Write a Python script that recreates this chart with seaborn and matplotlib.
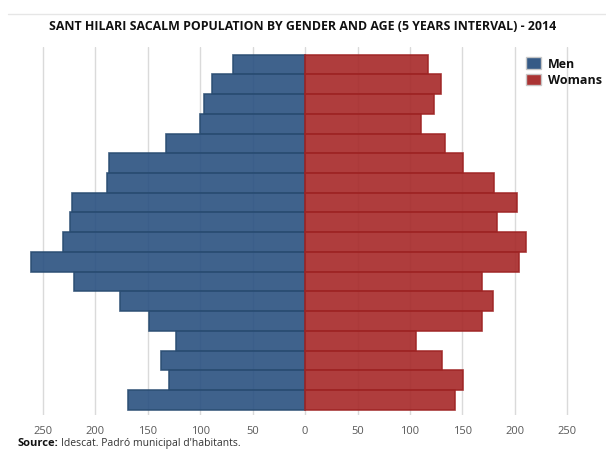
import matplotlib
matplotlib.use("Agg")
import matplotlib.pyplot as plt
import seaborn as sns
import pandas as pd
from matplotlib.patches import Patch
from matplotlib.lines import Line2D

# ---- data (top bar = oldest group) ----
age_groups = ["85+", "80-84", "75-79", "70-74", "65-69", "60-64", "55-59", "50-54",
              "45-49", "40-44", "35-39", "30-34", "25-29", "20-24", "15-19", "10-14",
              "5-9", "0-4"]
men = [69, 89, 96, 100, 133, 187, 189, 222, 224, 231, 261, 220, 177, 149, 123, 137, 130, 169]
women = [117, 130, 123, 111, 133, 151, 180, 202, 183, 211, 204, 169, 179, 169, 106, 131, 151, 143]
tick_values = [-250, -200, -150, -100, -50, 0, 50, 100, 150, 200, 250]
tick_labels = ["250", "200", "150", "100", "50", "0", "50", "100", "150", "200", "250"]
series_names = ["Men", "Womans"]

df_men = pd.DataFrame({"age": age_groups, "population": [-v for v in men]})
df_women = pd.DataFrame({"age": age_groups, "population": women})

sns.set_theme(style="white")
plt.rcParams['font.family'] = ['Open Sans', 'DejaVu Sans']

W, H = 606, 452
fig = plt.figure(figsize=(W / 100, H / 100), dpi=100)
ax = fig.add_axes([0, (H - 416) / H, 1, (416 - 48) / H])

men_fill, men_edge = "#2a5180", "#2a4d72"
wom_fill, wom_edge = "#a62828", "#9e2424"

sns.barplot(data=df_men, x="population", y="age", order=age_groups, orient="h",
            color=men_fill, saturation=1, width=1.0, alpha=0.9,
            edgecolor=men_edge, linewidth=1.2, ax=ax, zorder=2)
sns.barplot(data=df_women, x="population", y="age", order=age_groups, orient="h",
            color=wom_fill, saturation=1, width=1.0, alpha=0.9,
            edgecolor=wom_edge, linewidth=1.2, ax=ax, zorder=2)

ax.set_xlim(-291, 287)
ax.set_ylim(17.77, -0.89)
ax.set_xticks(tick_values)
ax.set_xticklabels(tick_labels)
ax.set_yticks([])
ax.set_xlabel("")
ax.set_ylabel("")
for s in ax.spines.values():
    s.set_visible(False)
ax.grid(axis="x", color="#dadada", linewidth=1)
ax.set_axisbelow(True)
ax.tick_params(axis="x", length=0, pad=7, labelsize=8, labelcolor="#595959")

# title
fig.text(0.5, 1 - 26.5 / H, "SANT HILARI SACALM POPULATION BY GENDER AND AGE (5 YEARS INTERVAL) - 2014",
         ha="center", va="center", fontsize=8.9, fontweight="bold", color="#111111")

# top divider line
fig.add_artist(Line2D([8 / W, 1], [1 - 14.7 / H, 1 - 14.7 / H], transform=fig.transFigure,
                      color="#e6e6e6", linewidth=1))

# legend
handles = [Patch(facecolor=men_fill, edgecolor="#c8c8c8", alpha=0.95, linewidth=1),
           Patch(facecolor=wom_fill, edgecolor="#c8c8c8", alpha=0.95, linewidth=1)]
leg = fig.legend(handles, series_names, loc="upper left",
                 bbox_to_anchor=(520 / W, 1 - 52 / H), frameon=False,
                 handlelength=1.2, handleheight=1.0, handletextpad=0.5,
                 borderpad=0, labelspacing=0.25,
                 prop={"weight": "bold", "size": 9})
for t in leg.get_texts():
    t.set_color("#111111")

# source
fig.text(17 / W, 1 - 446.5 / H, "Source:", ha="left", va="baseline", fontsize=8,
         fontweight="bold", color="#111111")
fig.text(61 / W, 1 - 446.5 / H, "Idescat. Padró municipal d'habitants.", ha="left",
         va="baseline", fontsize=7.5, color="#333333")

fig.savefig("out.png", dpi=100)
